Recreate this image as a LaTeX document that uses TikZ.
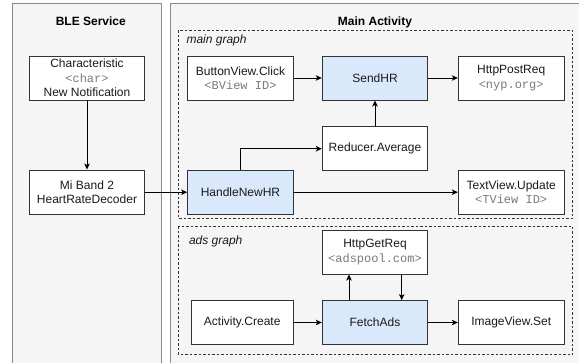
\documentclass[tikz,border=0pt]{standalone}
\usepackage{fontspec}
\setmainfont{Liberation Sans}
\setmonofont{Liberation Mono}
\usetikzlibrary{arrows.meta}
\definecolor{panelfill}{HTML}{F5F5F5}
\definecolor{panelline}{HTML}{8A8A8A}
\definecolor{bluefill}{HTML}{DAE8FC}
\definecolor{boxline}{HTML}{333333}
\definecolor{monogray}{HTML}{7A7A7A}
\definecolor{txt}{HTML}{1A1A1A}
\newcommand{\mono}[1]{{\ttfamily\color{monogray}#1}}
\tikzset{
  panel/.style={fill=panelfill, draw=panelline, line width=1pt},
  graphbox/.style={draw=boxline, dashed, dash pattern=on 2.5pt off 2pt, line width=0.9pt},
  box/.style={draw=boxline, fill=white, line width=1pt, rectangle, align=center,
    inner sep=0pt, text=txt, font=\fontsize{12}{14.5}\selectfont},
  bluebox/.style={box, fill=bluefill},
  conn/.style={draw=black, line width=1pt, -{Stealth[length=6pt,width=5.5pt,inset=1.5pt]}},
  title/.style={font=\fontsize{12}{14}\selectfont\bfseries, text=black},
  glabel/.style={font=\fontsize{12}{14}\selectfont\itshape, text=txt, anchor=west}
}
\begin{document}
\begin{tikzpicture}[x=1pt,y=-1pt]
\useasboundingbox (0,0) rectangle (579,362);
% panels
\path[panel] (12.3,365) -- (12.3,3.3) -- (161.7,3.3) -- (161.7,365);
\path[panel] (170.7,365) -- (170.7,3.3) -- (582,3.3) -- (582,365);
\node[title] (ble) at (90.8,21.5) {BLE Service};
\node[title] (mainact) at (375,22) {Main Activity};
% graph boxes
\draw[graphbox] (178.3,30) rectangle (572.7,218.3);
\draw[graphbox] (178.3,226) rectangle (572.7,354.3);
\node[glabel] (mg) at (183,40.5) {main graph};
\node[glabel] (ag) at (185.5,241) {ads graph};
% nodes
\node[box, minimum width=114.3pt, minimum height=44pt] (char) at (87,78)
  {Characteristic\\\mono{<char>}\\New Notification};
\node[box, minimum width=114.3pt, minimum height=44.3pt] (miband) at (87,192.2)
  {Mi Band 2\\HeartRateDecoder};
\node[box, minimum width=105.6pt, minimum height=44pt] (bview) at (240.5,78)
  {ButtonView.Click\\\mono{<BView ID>}};
\node[bluebox, minimum width=105.4pt, minimum height=44pt] (sendhr) at (375,78) {SendHR};
\node[box, minimum width=105.7pt, minimum height=44pt] (httppost) at (511.2,78)
  {HttpPostReq\\\mono{<nyp.org>}};
\node[box, minimum width=105.4pt, minimum height=44pt] (reducer) at (375,148.7) {Reducer.Average};
\node[bluebox, minimum width=105.6pt, minimum height=44.3pt] (handle) at (240.5,192.2) {HandleNewHR};
\node[box, minimum width=105.7pt, minimum height=44.3pt] (textview) at (511.2,192.2)
  {TextView.Update\\\mono{<TView ID>}};
\node[box, minimum width=105.4pt, minimum height=44pt] (httpget) at (375,252)
  {HttpGetReq\\\mono{<adspool.com>}};
\node[bluebox, minimum width=105.4pt, minimum height=43.6pt] (fetch) at (375,322.5) {FetchAds};
\node[box, minimum width=102.3pt, minimum height=43.4pt] (activity) at (242.2,322.5) {Activity.Create};
\node[box, minimum width=105.7pt, minimum height=43.6pt] (imageview) at (511.2,322.5) {ImageView.Set};
% connectors
\draw[conn] (char) -- (miband);
\draw[conn] (miband) -- (handle);
\draw[conn] (bview) -- (sendhr);
\draw[conn] (sendhr) -- (httppost);
\draw[conn] (reducer) -- (sendhr);
\draw[conn] (handle.north) ++(0,0) coordinate (hn) (hn) |- (reducer.west);
\draw[conn] (handle) -- (textview);
\draw[conn] (activity) -- (fetch);
\draw[conn] (fetch) -- (imageview);
\draw[conn] ([xshift=-26pt]fetch.north) -- ([xshift=-26pt]httpget.south);
\draw[conn] ([xshift=26.7pt]httpget.south) -- ([xshift=26.7pt]fetch.north);
\end{tikzpicture}
\end{document}
